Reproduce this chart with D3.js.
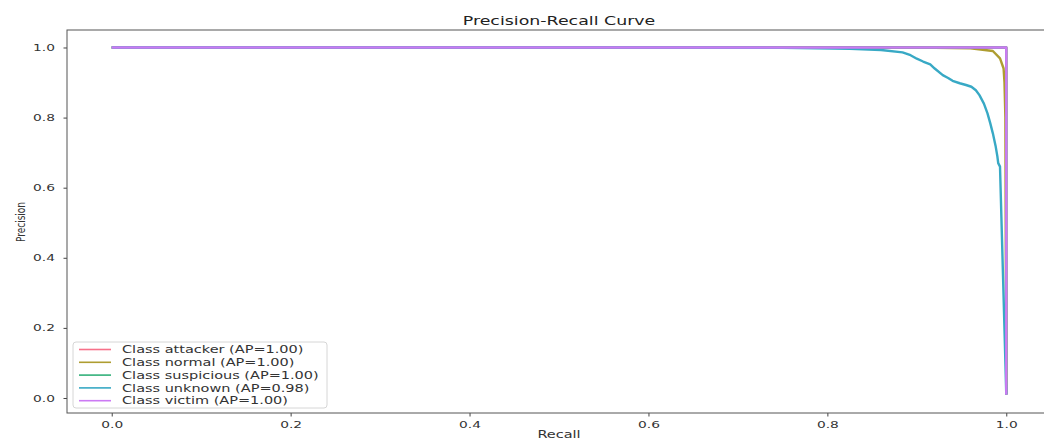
<!DOCTYPE html>
<html>
<head>
<meta charset="utf-8">
<script src="https://cdn.jsdelivr.net/npm/d3@7"></script>
<style>
  body { margin: 0; background: #fff; }
  svg { display: block; }
  text { font-family: "DejaVu Sans", sans-serif; }
</style>
</head>
<body>
<svg id="chart"></svg>
<script>
// class names, legend labels and colours
var classes = ["attacker", "normal", "suspicious", "unknown", "victim"];
var apScores = ["1.00", "1.00", "1.00", "0.98", "1.00"];
var colors = ["#f77189", "#ae9d31", "#33b07a", "#38a9c5", "#cc7af4"];

// curve points (recall, precision)
var attackerRecall = [0, 1, 1];
var attackerPrecision = [1, 1, 0.01];

var normalRecall = [0, 0.9, 0.96, 0.985, 0.993, 0.997, 0.998, 0.999, 1];
var normalPrecision = [1, 1, 0.998, 0.99, 0.969, 0.94, 0.9, 0.8, 0.01];

var suspiciousRecall = [0, 1, 1];
var suspiciousPrecision = [1, 1, 0.01];

var unknownRecall = [0, 0.6, 0.75, 0.825, 0.86, 0.884, 0.893, 0.9, 0.907, 0.915, 0.92, 0.929,
  0.935, 0.94, 0.948, 0.955, 0.961, 0.966, 0.97, 0.975, 0.979, 0.982, 0.985, 0.988, 0.99, 0.991, 0.993, 1];
var unknownPrecision = [1, 1, 0.999, 0.996, 0.993, 0.986, 0.978, 0.968, 0.96, 0.952, 0.94, 0.921,
  0.913, 0.905, 0.898, 0.893, 0.888, 0.878, 0.864, 0.84, 0.812, 0.785, 0.755, 0.72, 0.69, 0.67, 0.66, 0.01];

var victimRecall = [0, 1, 1];
var victimPrecision = [1, 1, 0.009];

var xTicks = [0, 0.2, 0.4, 0.6, 0.8, 1.0];
var yTicks = [0, 0.2, 0.4, 0.6, 0.8, 1.0];

var series = [
  [attackerRecall, attackerPrecision],
  [normalRecall, normalPrecision],
  [suspiciousRecall, suspiciousPrecision],
  [unknownRecall, unknownPrecision],
  [victimRecall, victimPrecision]
].map(function(s, i) {
  return {
    name: classes[i],
    color: colors[i],
    ap: apScores[i],
    points: s[0].map(function(r, j) { return [r, s[1][j]]; })
  };
});

var width = 1044, height = 439;
var margin = {top: 30, right: -7, bottom: 26, left: 67};
// the original picture is stretched sideways, so text is widened too
var SX = 1.45;

var svg = d3.select("#chart")
  .attr("width", width)
  .attr("height", height);

var x = d3.scaleLinear()
  .domain([-0.05, 1.05])
  .range([margin.left, width - margin.right]);

var y = d3.scaleLinear()
  .domain([-0.0428, 1.0499])
  .range([height - margin.bottom, margin.top]);

var fmt = d3.format(".1f");

// axes
var xAxis = svg.append("g")
  .attr("transform", "translate(0," + (height - margin.bottom) + ")")
  .call(d3.axisBottom(x).tickValues(xTicks).tickFormat(fmt).tickSize(3.5));

var yAxis = svg.append("g")
  .attr("transform", "translate(" + margin.left + ",0)")
  .call(d3.axisLeft(y).tickValues(yTicks).tickFormat(fmt).tickSize(3.5));

[xAxis, yAxis].forEach(function(ax) {
  ax.select(".domain").remove();
  ax.selectAll("line").attr("stroke", "#444");
  ax.selectAll("text")
    .attr("fill", "#333")
    .style("font-family", "DejaVu Sans, sans-serif")
    .style("font-size", "9.5px")
    .attr("transform", "scale(" + SX + ",1)");
});
xAxis.selectAll("text").attr("dy", null).attr("y", 15.5);
yAxis.selectAll("text").attr("x", -12 / SX);

// frame
svg.append("rect")
  .attr("x", x.range()[0])
  .attr("y", margin.top)
  .attr("width", x.range()[1] - x.range()[0])
  .attr("height", y.range()[0] - y.range()[1])
  .attr("fill", "none")
  .attr("stroke", "#555")
  .attr("stroke-width", 1);

// curves
var line = d3.line()
  .x(function(d) { return x(d[0]); })
  .y(function(d) { return y(d[1]); });

svg.append("g")
  .selectAll("path")
  .data(series)
  .enter()
  .append("path")
  .attr("d", function(d) { return line(d.points); })
  .attr("fill", "none")
  .attr("stroke", function(d) { return d.color; })
  .attr("stroke-width", 2.4)
  .attr("stroke-linejoin", "round");

// title and labels
var midX = (x.range()[0] + x.range()[1]) / 2;

svg.append("text")
  .attr("transform", "translate(" + midX + ",25) scale(" + SX + ",1)")
  .attr("text-anchor", "middle")
  .attr("fill", "#222")
  .style("font-size", "12px")
  .text("Precision-Recall Curve");

svg.append("text")
  .attr("transform", "translate(" + midX + ",437.5) scale(" + SX + ",1)")
  .attr("text-anchor", "middle")
  .attr("fill", "#333")
  .style("font-size", "10px")
  .text("Recall");

svg.append("text")
  .attr("transform", "translate(24.5,222) scale(" + SX + ",1) rotate(-90)")
  .attr("text-anchor", "middle")
  .attr("fill", "#333")
  .style("font-size", "9px")
  .text("Precision");

// legend
var legend = svg.append("g").attr("transform", "translate(73,342)");

legend.append("rect")
  .attr("width", 254)
  .attr("height", 66)
  .attr("rx", 3)
  .attr("fill", "#fff")
  .attr("fill-opacity", 0.8)
  .attr("stroke", "#d6d6d6");

var item = legend.selectAll("g.item")
  .data(series)
  .enter()
  .append("g")
  .attr("class", "item")
  .attr("transform", function(d, i) { return "translate(0," + (7.5 + i * 12.8) + ")"; });

item.append("line")
  .attr("x1", 6).attr("x2", 38)
  .attr("stroke", function(d) { return d.color; })
  .attr("stroke-width", 1.6);

item.append("text")
  .attr("transform", "translate(49,3.6) scale(" + SX + ",1)")
  .attr("fill", "#333")
  .style("font-size", "10px")
  .text(function(d) { return "Class " + d.name + " (AP=" + d.ap + ")"; });
</script>
</body>
</html>
